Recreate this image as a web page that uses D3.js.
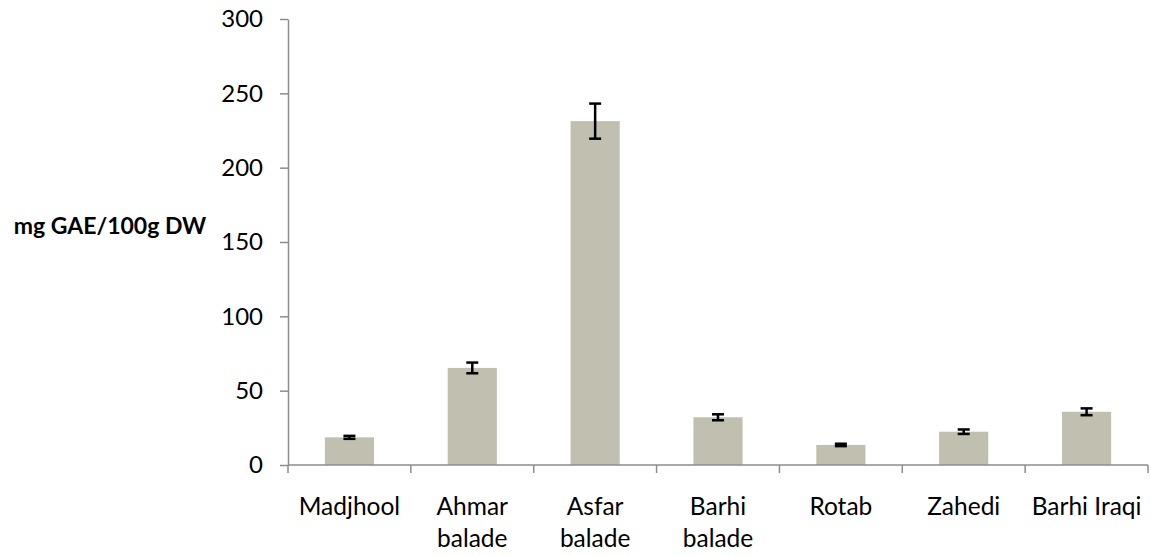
<!DOCTYPE html>
<html>
<head>
<meta charset="utf-8">
<script src="https://cdn.jsdelivr.net/npm/d3@7"></script>
<style>
  html, body { margin: 0; padding: 0; background: #fff; }
  svg { display: block; }
  text { font-family: Lato, "Open Sans", sans-serif; fill: #000; }
</style>
</head>
<body>
<svg id="chart" width="1151" height="556"></svg>
<script>
// Total phenolic content per date variety (mg GAE/100g DW), mean ± SD
const categories = ["Madjhool", "Ahmar balade", "Asfar balade", "Barhi balade", "Rotab", "Zahedi", "Barhi Iraqi"];
const categoryLines = [["Madjhool"], ["Ahmar", "balade"], ["Asfar", "balade"], ["Barhi", "balade"], ["Rotab"], ["Zahedi"], ["Barhi Iraqi"]];
const values = [18.6, 65.3, 231.3, 32.1, 13.5, 22.4, 35.8];
const errors = [1.0, 3.6, 11.8, 2.0, 0.8, 1.5, 2.3];
const yTicks = [0, 50, 100, 150, 200, 250, 300];
const yTitle = "mg GAE/100g DW";

const svg = d3.select("#chart");
const plot = { left: 288, right: 1148, top: 19, bottom: 465 };

const x = d3.scaleBand().domain(categories).range([plot.left, plot.right]).paddingInner(0).paddingOuter(0);
const y = d3.scaleLinear().domain([0, 300]).range([plot.bottom, plot.top]);

const barWidth = x.bandwidth() * 0.4;
const axisColor = "#8c8c8c";

// Bars
svg.append("g").selectAll("rect")
  .data(categories)
  .join("rect")
  .attr("x", (d) => x(d) + (x.bandwidth() - barWidth) / 2)
  .attr("width", barWidth)
  .attr("y", (d, i) => y(values[i]))
  .attr("height", (d, i) => y(0) - y(values[i]))
  .attr("fill", "#c1bfaf");

// Error bars
const eb = svg.append("g").attr("stroke", "#000").attr("stroke-width", 2.5);
categories.forEach((c, i) => {
  const cx = x(c) + x.bandwidth() / 2;
  const hi = y(values[i] + errors[i]);
  const lo = y(values[i] - errors[i]);
  eb.append("line").attr("x1", cx).attr("x2", cx).attr("y1", hi).attr("y2", lo);
  eb.append("line").attr("x1", cx - 6).attr("x2", cx + 6).attr("y1", hi).attr("y2", hi);
  eb.append("line").attr("x1", cx - 6).attr("x2", cx + 6).attr("y1", lo).attr("y2", lo);
});

// Y axis
const yAxis = svg.append("g")
  .attr("transform", `translate(${plot.left},0)`)
  .call(d3.axisLeft(y).tickValues(yTicks).tickSize(8).tickPadding(17).tickSizeOuter(0));
yAxis.select(".domain").attr("stroke", axisColor).attr("stroke-width", 1.5);
yAxis.selectAll(".tick line").attr("stroke", axisColor).attr("stroke-width", 1.5);
yAxis.selectAll(".tick text").attr("font-size", 24).attr("font-family", "Lato, 'Open Sans', sans-serif").attr("fill", "#000");

// X axis: baseline with ticks at category boundaries
const xAxis = svg.append("g");
xAxis.append("line")
  .attr("x1", plot.left).attr("x2", plot.right)
  .attr("y1", y(0)).attr("y2", y(0))
  .attr("stroke", axisColor).attr("stroke-width", 1.5);
const boundaries = categories.map((c) => x(c)).concat([x(categories[categories.length - 1]) + x.bandwidth()]);
xAxis.selectAll("line.tick")
  .data(boundaries)
  .join("line")
  .attr("class", "tick")
  .attr("x1", (d) => d).attr("x2", (d) => d)
  .attr("y1", y(0)).attr("y2", y(0) + 8)
  .attr("stroke", axisColor).attr("stroke-width", 1.5);

// Category labels (wrapped)
const labels = svg.append("g").attr("font-size", 24.5).attr("text-anchor", "middle");
categories.forEach((c, i) => {
  const t = labels.append("text")
    .attr("x", x(c) + x.bandwidth() / 2)
    .attr("y", 515);
  categoryLines[i].forEach((line, j) => {
    t.append("tspan")
      .attr("x", x(c) + x.bandwidth() / 2)
      .attr("dy", j === 0 ? 0 : 31.5)
      .text(line);
  });
});

// Y axis title
svg.append("text")
  .attr("x", 110)
  .attr("y", 234)
  .attr("text-anchor", "middle")
  .attr("font-size", 23)
  .attr("font-weight", "bold")
  .text(yTitle);
</script>
</body>
</html>
